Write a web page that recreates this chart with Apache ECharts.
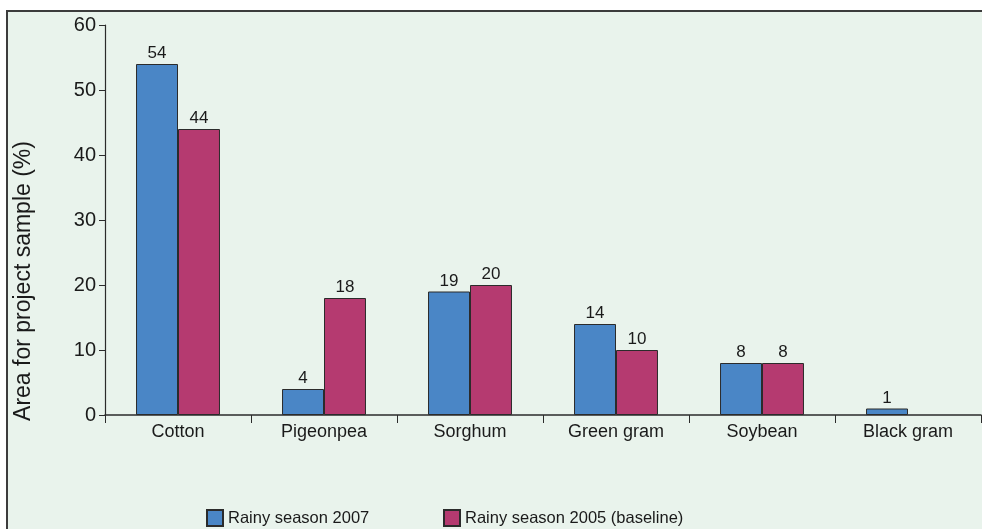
<!DOCTYPE html>
<html>
<head>
<meta charset="utf-8">
<style>
html,body{margin:0;padding:0;background:#fff;}
#chart{width:982px;height:529px;}
</style>
<script src="https://cdn.jsdelivr.net/npm/echarts@6/dist/echarts.min.js"></script>
</head>
<body>
<div id="chart"></div>
<script>
const categories = ['Cotton', 'Pigeonpea', 'Sorghum', 'Green gram', 'Soybean', 'Black gram'];
const season2007 = [54, 4, 19, 14, 8, 1];
const season2005 = [44, 18, 20, 10, 8, null];
const seriesNames = ['Rainy season 2007', 'Rainy season 2005 (baseline)'];
const yTicks = [0, 10, 20, 30, 40, 50, 60];

const FONT = '"Liberation Sans", Arial, sans-serif';
const chart = echarts.init(document.getElementById('chart'), null, {renderer: 'canvas'});
const barStyle = (color) => ({color: color, borderColor: '#2b2b2b', borderWidth: 1});
const labelCfg = {show: true, position: 'top', distance: 2, color: '#1a1a1a', fontSize: 17, fontFamily: FONT};

chart.setOption({
  backgroundColor: '#ffffff',
  animation: false,
  graphic: [
    {type: 'rect', z: -10, shape: {x: 7, y: 11, width: 1000, height: 600},
     style: {fill: '#e9f3ec', stroke: '#3c3c3c', lineWidth: 2}},
    {type: 'text', x: 24, y: 281, rotation: Math.PI / 2,
     style: {text: 'Area for project sample (%)', fontSize: 23, fontFamily: FONT, fill: '#1a1a1a',
              align: 'center', verticalAlign: 'middle'}}
  ],
  grid: {left: 105, right: 1, top: 25, bottom: 114, containLabel: false},
  legend: [
    {data: [seriesNames[0]], left: 201, top: 504, itemWidth: 16, itemHeight: 16, itemGap: 0,
     textStyle: {fontSize: 16.5, fontFamily: FONT, color: '#1a1a1a'}, icon: 'rect'},
    {data: [seriesNames[1]], left: 438, top: 504, itemWidth: 16, itemHeight: 16, itemGap: 0,
     textStyle: {fontSize: 16.5, fontFamily: FONT, color: '#1a1a1a'}, icon: 'rect'}
  ],
  xAxis: {
    type: 'category',
    data: categories,
    axisLine: {lineStyle: {color: '#2b2b2b', width: 1.5}},
    axisTick: {show: true, length: 8, lineStyle: {color: '#2b2b2b'}},
    axisLabel: {fontSize: 18, fontFamily: FONT, color: '#1a1a1a', margin: 8}
  },
  yAxis: {
    type: 'value',
    min: yTicks[0], max: yTicks[yTicks.length - 1], interval: 10,
    splitLine: {show: false},
    axisLine: {show: true, lineStyle: {color: '#2b2b2b', width: 1.2}},
    axisTick: {show: true, length: 6, lineStyle: {color: '#2b2b2b'}},
    axisLabel: {fontSize: 20, fontFamily: FONT, color: '#1a1a1a', margin: 9}
  },
  series: [
    {name: seriesNames[0], type: 'bar', data: season2007, barGap: '0%', barCategoryGap: '42.5%',
     itemStyle: barStyle('#4a86c6'), label: labelCfg},
    {name: seriesNames[1], type: 'bar', data: season2005, barGap: '0%', barCategoryGap: '42.5%',
     itemStyle: barStyle('#b53a70'), label: labelCfg}
  ]
});
</script>
</body>
</html>
